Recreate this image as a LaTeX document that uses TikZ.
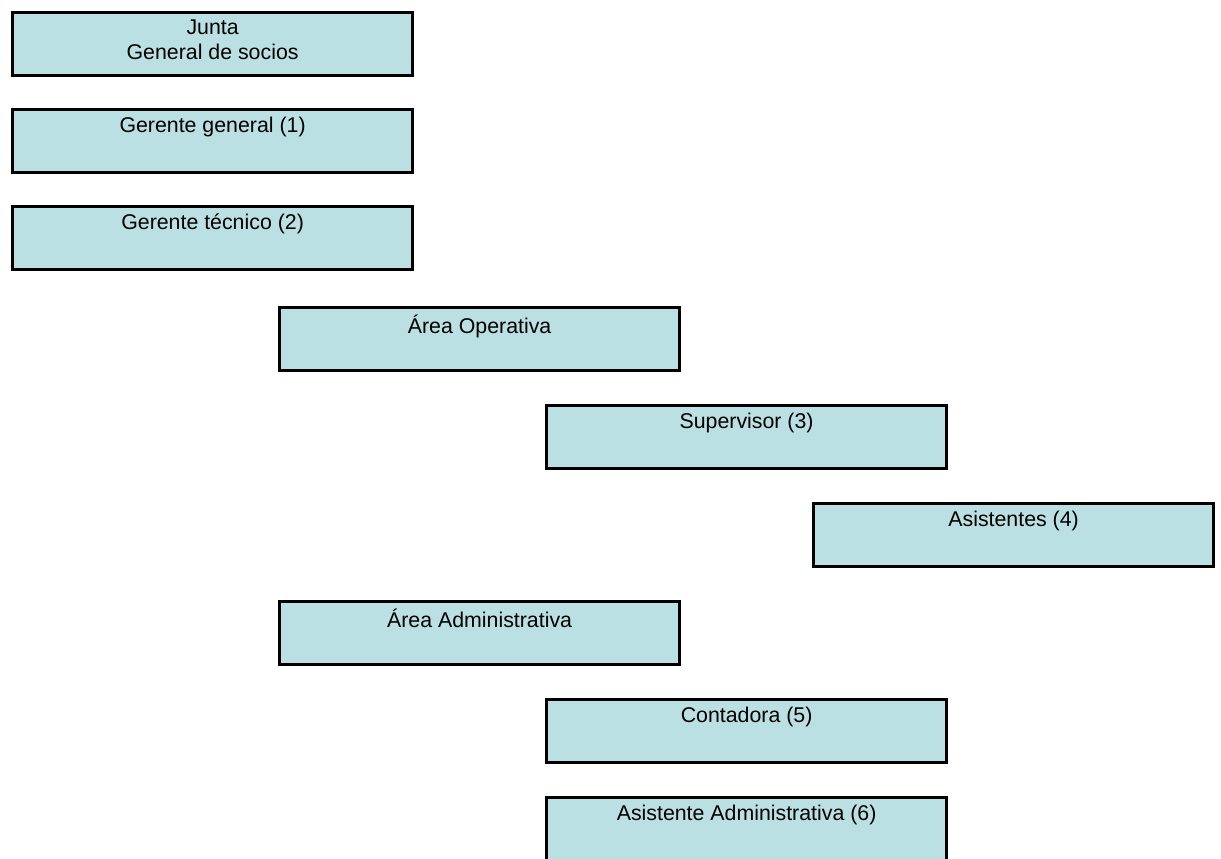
\documentclass[tikz,border=0pt]{standalone}
\usepackage{fontspec}
\setmainfont{Liberation Sans}
\definecolor{celeste}{HTML}{BBE0E3}
\tikzset{
	caja/.style={draw=black, fill=celeste, line width=2.4pt, anchor=north west,
		minimum width=300pt, minimum height=47.25pt, inner sep=0pt},
	rotulo/.style={anchor=north, inner sep=0pt, align=center,
		font=\fontsize{16}{18.5}\selectfont, yshift=-6.5pt}
}
\begin{document}
\begin{tikzpicture}[x=0.75pt, y=-0.75pt]
		\useasboundingbox (0,0) rectangle (1221,859);
		\foreach \n/\x/\y/\t in {gs/11/11/{Junta\\General de socios},
			gg/11/108/{Gerente general (1)},
			gt/11/205/{Gerente técnico (2)},
			ao/278/306/{Área Operativa},
			sup/545/404/{Supervisor (3)},
			asis/812/502/{Asistentes (4)},
			aa/278/600/{Área Administrativa},
			cont/545/698/{Contadora (5)},
			asad/545/796/{Asistente Administrativa (6)}}
		{
			\node[caja] (\n) at (\x,\y) {};
			\node[rotulo] (\n-t) at (\n.north) {\t};
		}
		\end{tikzpicture}
\end{document}
